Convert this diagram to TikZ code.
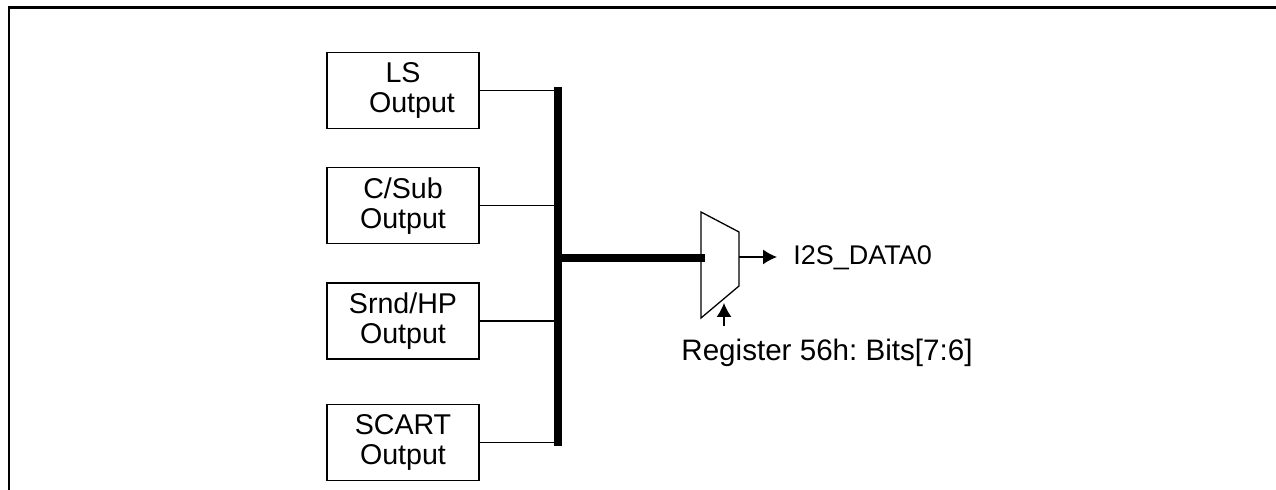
\documentclass[tikz,border=0pt]{standalone}
\usepackage{fontspec}
\setmainfont{Liberation Sans}
\usetikzlibrary{positioning,arrows.meta}

\begin{document}
\begin{tikzpicture}[x=0.5pt,y=-0.5pt]
\frenchspacing
\tikzstyle{block}=[rectangle, draw=black, line width=0.65pt, minimum width=76pt, minimum height=38pt, inner sep=0pt, align=center, font=\fontsize{14.3}{15}\selectfont, node distance=19pt]
\tikzstyle{wire}=[line width=0.65pt]
\tikzstyle{bus}=[line width=4pt]
\tikzstyle{sig}=[-{Latex[length=7pt,width=7.5pt]}, line width=0.65pt]
  \useasboundingbox (0,0) rectangle (1276,490);
  \draw[line width=1.4pt] (9,490) -- (9,7.5) -- (1276,7.5);
  \node[block] (ls) at (403,90.5) {LS\\ \hspace*{9pt}Output};
  \node[block] (csub) [below=of ls] {C/Sub\\Output};
  \node[block] (srnd) [below=of csub] {Srnd/HP\\Output};
  \node[block] (scart) [below=22pt of srnd] {SCART\\Output};
  \coordinate (bustop) at ([xshift=39pt,yshift=1.8pt]ls.east);
  \coordinate (busbot) at ([xshift=39pt,yshift=-2pt]scart.east);
  \draw[bus] (bustop) -- (busbot);
  \foreach \n in {ls,csub,srnd,scart}
    \draw[wire] (\n.east) -- (\n.east -| bustop);
  % mux
  \coordinate (mtl) at (701,212);
  \coordinate (mtr) at (739,232);
  \coordinate (mbr) at (739,286);
  \coordinate (mbl) at (701,318);
  \draw[wire] (mtl) -- (mtr) -- (mbr) -- (mbl) -- cycle;
  \coordinate (muxin) at (705,258);
  \draw[bus] (bustop |- muxin) -- (muxin);
  \coordinate (muxout) at (739,257);
  \node[anchor=base west, inner xsep=8pt, font=\fontsize{13.5}{15}\selectfont] (dout) at (777,265) {I2S\_DATA0};
  \draw[sig] (muxout) -- (muxout -| dout.west);
  \node[anchor=base, font=\fontsize{14.8}{15}\selectfont] (reg) at (827,361) {Register 56h: Bits[7:6]};
  \coordinate (selsrc) at (724,326);
  \coordinate (seltip) at (724,303);
  \draw[sig] (selsrc) -- (seltip);
\end{tikzpicture}
\end{document}
